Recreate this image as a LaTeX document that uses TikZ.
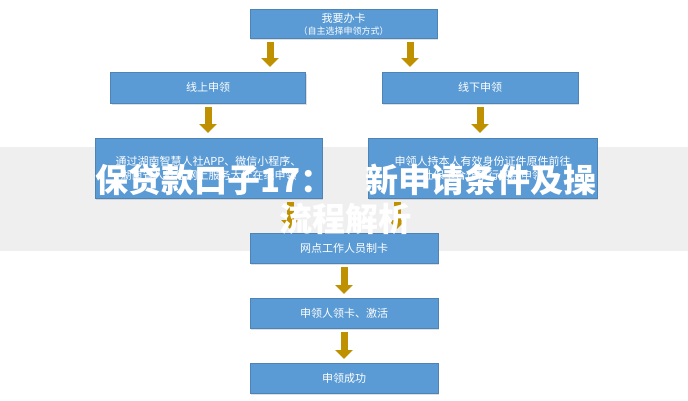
\documentclass[tikz,border=0pt]{standalone}
\usepackage{fontspec}
\newfontfamily\cjk{Noto Sans CJK SC}
\newfontfamily\cjkb{Noto Sans CJK SC Black}
\usetikzlibrary{arrows.meta,shadows}
\definecolor{boxblue}{HTML}{5B9BD5}
\definecolor{gold}{HTML}{BF9000}
\definecolor{band}{HTML}{EFEFEF}
\tikzset{
  box/.style={fill=boxblue, draw=boxblue!85!black, line width=0.4pt, text=white, font=\cjk\fontsize{11}{14}\selectfont, align=center, inner sep=2pt, drop shadow={shadow xshift=1pt, shadow yshift=-1.5pt, opacity=0.25}},
  garrow/.style={draw=gold, line width=7pt, -{Triangle[width=17pt,length=9pt]}},
  wm/.style={text=white, font=\cjkb\fontsize{33}{36}\selectfont, inner sep=0pt}
}
\begin{document}
\begin{tikzpicture}[x=1pt,y=-1pt]
\useasboundingbox (0,0) rectangle (688,400);
\fill[white] (0,0) rectangle (688,400);
\fill[band] (0,147) rectangle (688,251);
\node[box, minimum width=187pt, minimum height=29pt] (top) at (343.5,24) {我要办卡\\[-2pt]{\fontsize{9}{10}\selectfont （自主选择申领方式）}};
\node[box, minimum width=195pt, minimum height=31pt] (on) at (208,87.5) {线上申领};
\node[box, minimum width=196pt, minimum height=31pt] (off) at (480,87.5) {线下申领};
\node[box, minimum width=227pt, minimum height=60pt, text width=223pt] (ond) at (208.5,168) {通过湖南智慧人社APP、微信小程序、\\湖南省人社厅网上服务大厅在线申领};
\node[box, minimum width=229pt, minimum height=60pt, text width=225pt] (offd) at (482.5,168) {申领人持本人有效身份证件原件前往\\社保卡合作银行网点申领};
\node[box, minimum width=188pt, minimum height=30pt] (make) at (344,248) {网点工作人员制卡};
\node[box, minimum width=188pt, minimum height=30pt] (act) at (344,313) {申领人领卡、激活};
\node[box, minimum width=188pt, minimum height=30pt] (ok) at (344,378) {申领成功};
\draw[garrow] (270,42) -- (270,67);
\draw[garrow] (410,42) -- (410,67);
\draw[garrow] (208,107) -- (208,133);
\draw[garrow] (480,107) -- (480,133);
\draw[garrow] (290,202) -- (290,229);
\draw[garrow] (397,202) -- (397,229);
\draw[garrow] (344,267) -- (344,294);
\draw[garrow] (344,332) -- (344,359);
\node[wm, anchor=west] (w1) at (95,180) {保贷款口子17：};
\node[wm, anchor=east] (w2) at (597,180) {新申请条件及操};
\node[wm] (w3) at (345,219) {流程解析};
\end{tikzpicture}
\end{document}
